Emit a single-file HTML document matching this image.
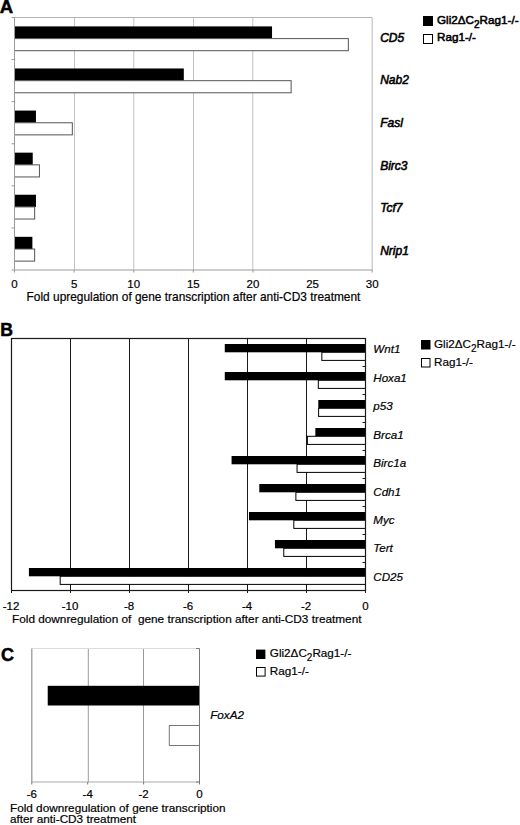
<!DOCTYPE html>
<html><head><meta charset="utf-8"><style>
html,body{margin:0;padding:0;background:#fff;width:520px;height:825px;overflow:hidden}
svg{display:block;font-family:"Liberation Sans", sans-serif}
text{fill:#000;stroke:#000;stroke-width:0.2px;paint-order:stroke}
text.ns{stroke:none}
text.hv{stroke-width:0.55px}
text.pl{stroke-width:0.5px}
</style></head><body>
<svg width="520" height="825" viewBox="0 0 520 825">
<line x1="74.50" y1="17.50" x2="74.50" y2="270.00" stroke="#c2c2c2" stroke-width="1"/>
<line x1="133.80" y1="17.50" x2="133.80" y2="270.00" stroke="#c2c2c2" stroke-width="1"/>
<line x1="193.50" y1="17.50" x2="193.50" y2="270.00" stroke="#c2c2c2" stroke-width="1"/>
<line x1="252.80" y1="17.50" x2="252.80" y2="270.00" stroke="#c2c2c2" stroke-width="1"/>
<line x1="14.50" y1="17.50" x2="372.20" y2="17.50" stroke="#b4b4b4" stroke-width="1"/>
<line x1="372.20" y1="17.50" x2="372.20" y2="270.00" stroke="#c4c4c4" stroke-width="1.2"/>
<rect x="14.50" y="26.40" width="257.54" height="12.20" fill="#000"/>
<rect x="14.50" y="38.60" width="333.85" height="12.10" fill="#fff" stroke="#555" stroke-width="1"/>
<text class="hv" x="380.2" y="41.8" font-size="12" font-style="italic">CD5</text>
<rect x="14.50" y="68.48" width="169.31" height="12.20" fill="#000"/>
<rect x="14.50" y="80.68" width="276.62" height="12.10" fill="#fff" stroke="#555" stroke-width="1"/>
<text class="hv" x="380.2" y="84.2" font-size="12" font-style="italic">Nab2</text>
<rect x="14.50" y="110.57" width="21.46" height="12.20" fill="#000"/>
<rect x="14.50" y="122.77" width="57.83" height="12.10" fill="#fff" stroke="#555" stroke-width="1"/>
<text class="hv" x="380.2" y="126.8" font-size="12" font-style="italic">Fasl</text>
<rect x="14.50" y="152.65" width="18.24" height="12.20" fill="#000"/>
<rect x="14.50" y="164.85" width="24.92" height="12.10" fill="#fff" stroke="#555" stroke-width="1"/>
<text class="hv" x="380.2" y="169.8" font-size="12" font-style="italic">Birc3</text>
<rect x="14.50" y="194.73" width="21.46" height="12.20" fill="#000"/>
<rect x="14.50" y="206.93" width="20.15" height="12.10" fill="#fff" stroke="#555" stroke-width="1"/>
<text class="hv" x="380.2" y="212" font-size="12" font-style="italic">Tcf7</text>
<rect x="14.50" y="236.82" width="17.88" height="12.20" fill="#000"/>
<rect x="14.50" y="249.02" width="20.15" height="12.10" fill="#fff" stroke="#555" stroke-width="1"/>
<text class="hv" x="380.2" y="254.8" font-size="12" font-style="italic">Nrip1</text>
<line x1="14.50" y1="17.50" x2="14.50" y2="270.00" stroke="#999" stroke-width="1"/>
<line x1="14.50" y1="270.00" x2="372.20" y2="270.00" stroke="#9a9a9a" stroke-width="1"/>
<line x1="11.50" y1="17.50" x2="14.50" y2="17.50" stroke="#999" stroke-width="1"/>
<line x1="11.50" y1="59.58" x2="14.50" y2="59.58" stroke="#999" stroke-width="1"/>
<line x1="11.50" y1="101.67" x2="14.50" y2="101.67" stroke="#999" stroke-width="1"/>
<line x1="11.50" y1="143.75" x2="14.50" y2="143.75" stroke="#999" stroke-width="1"/>
<line x1="11.50" y1="185.83" x2="14.50" y2="185.83" stroke="#999" stroke-width="1"/>
<line x1="11.50" y1="227.92" x2="14.50" y2="227.92" stroke="#999" stroke-width="1"/>
<line x1="11.50" y1="270.00" x2="14.50" y2="270.00" stroke="#999" stroke-width="1"/>
<line x1="14.50" y1="270.00" x2="14.50" y2="272.50" stroke="#999" stroke-width="1"/>
<text x="14.50" y="288.20" font-size="11.5" text-anchor="middle">0</text>
<line x1="74.12" y1="270.00" x2="74.12" y2="272.50" stroke="#999" stroke-width="1"/>
<text x="74.12" y="288.20" font-size="11.5" text-anchor="middle">5</text>
<line x1="133.73" y1="270.00" x2="133.73" y2="272.50" stroke="#999" stroke-width="1"/>
<text x="133.73" y="288.20" font-size="11.5" text-anchor="middle">10</text>
<line x1="193.35" y1="270.00" x2="193.35" y2="272.50" stroke="#999" stroke-width="1"/>
<text x="193.35" y="288.20" font-size="11.5" text-anchor="middle">15</text>
<line x1="252.97" y1="270.00" x2="252.97" y2="272.50" stroke="#999" stroke-width="1"/>
<text x="252.97" y="288.20" font-size="11.5" text-anchor="middle">20</text>
<text x="312.58" y="288.20" font-size="11.5" text-anchor="middle">25</text>
<line x1="372.20" y1="270.00" x2="372.20" y2="272.50" stroke="#999" stroke-width="1"/>
<text x="372.20" y="288.20" font-size="11.5" text-anchor="middle">30</text>
<text x="26.60" y="300.50" font-size="11.9">Fold upregulation of gene transcription after anti-CD3 treatment</text>
<rect x="423.00" y="16.00" width="10.00" height="10.00" fill="#000"/>
<rect x="423.50" y="34.50" width="9.00" height="9.00" fill="#fff" stroke="#000" stroke-width="1"/>
<text x="437.00" y="24.00" font-size="11.7" class="hv">Gli2&#916;C<tspan font-size="10" dy="4.2">2</tspan><tspan dy="-4.2">Rag1-/-</tspan></text>
<text class="hv" x="437" y="41.4" font-size="11.7">Rag1-/-</text>
<text class="pl" x="-0.2" y="12.7" font-size="18.5" font-weight="bold">A</text>
<line x1="306.50" y1="338.50" x2="306.50" y2="590.50" stroke="#1a1a1a" stroke-width="1"/>
<line x1="247.50" y1="338.50" x2="247.50" y2="590.50" stroke="#1a1a1a" stroke-width="1"/>
<line x1="188.50" y1="338.50" x2="188.50" y2="590.50" stroke="#1a1a1a" stroke-width="1"/>
<line x1="129.50" y1="338.50" x2="129.50" y2="590.50" stroke="#1a1a1a" stroke-width="1"/>
<line x1="70.50" y1="338.50" x2="70.50" y2="590.50" stroke="#1a1a1a" stroke-width="1"/>
<rect x="224.78" y="344.00" width="140.72" height="8.30" fill="#000"/>
<rect x="321.84" y="352.30" width="43.66" height="8.10" fill="#fff" stroke="#000" stroke-width="1"/>
<text x="373.30" y="353.40" font-size="11.6" font-style="italic">Wnt1</text>
<rect x="224.78" y="372.00" width="140.72" height="8.30" fill="#000"/>
<rect x="318.30" y="380.30" width="47.20" height="8.10" fill="#fff" stroke="#000" stroke-width="1"/>
<text x="373.30" y="381.82" font-size="11.6" font-style="italic">Hoxa1</text>
<rect x="318.30" y="400.00" width="47.20" height="8.30" fill="#000"/>
<rect x="318.60" y="408.30" width="46.90" height="8.10" fill="#fff" stroke="#000" stroke-width="1"/>
<text x="373.30" y="410.24" font-size="11.6" font-style="italic">p53</text>
<rect x="315.35" y="428.00" width="50.15" height="8.30" fill="#000"/>
<rect x="307.38" y="436.30" width="58.12" height="8.10" fill="#fff" stroke="#000" stroke-width="1"/>
<text x="373.30" y="438.66" font-size="11.6" font-style="italic">Brca1</text>
<rect x="231.57" y="456.00" width="133.93" height="8.30" fill="#000"/>
<rect x="297.06" y="464.30" width="68.44" height="8.10" fill="#fff" stroke="#000" stroke-width="1"/>
<text x="373.30" y="467.08" font-size="11.6" font-style="italic">Birc1a</text>
<rect x="259.30" y="484.00" width="106.20" height="8.30" fill="#000"/>
<rect x="295.88" y="492.30" width="69.62" height="8.10" fill="#fff" stroke="#000" stroke-width="1"/>
<text x="373.30" y="495.50" font-size="11.6" font-style="italic">Cdh1</text>
<rect x="248.98" y="512.00" width="116.52" height="8.30" fill="#000"/>
<rect x="293.81" y="520.30" width="71.69" height="8.10" fill="#fff" stroke="#000" stroke-width="1"/>
<text x="373.30" y="523.92" font-size="11.6" font-style="italic">Myc</text>
<rect x="274.94" y="540.00" width="90.56" height="8.30" fill="#000"/>
<rect x="283.78" y="548.30" width="81.72" height="8.10" fill="#fff" stroke="#000" stroke-width="1"/>
<text x="373.30" y="552.34" font-size="11.6" font-style="italic">Tert</text>
<rect x="28.91" y="568.00" width="336.59" height="8.30" fill="#000"/>
<rect x="60.18" y="576.30" width="305.32" height="8.10" fill="#fff" stroke="#000" stroke-width="1"/>
<text x="373.30" y="580.76" font-size="11.6" font-style="italic">CD25</text>
<rect x="11.50" y="338.50" width="354.00" height="252.00" fill="none" stroke="#1a1a1a" stroke-width="1.2"/>
<line x1="362.50" y1="366.50" x2="365.50" y2="366.50" stroke="#1a1a1a" stroke-width="1"/>
<line x1="362.50" y1="394.50" x2="365.50" y2="394.50" stroke="#1a1a1a" stroke-width="1"/>
<line x1="362.50" y1="422.50" x2="365.50" y2="422.50" stroke="#1a1a1a" stroke-width="1"/>
<line x1="362.50" y1="450.50" x2="365.50" y2="450.50" stroke="#1a1a1a" stroke-width="1"/>
<line x1="362.50" y1="478.50" x2="365.50" y2="478.50" stroke="#1a1a1a" stroke-width="1"/>
<line x1="362.50" y1="506.50" x2="365.50" y2="506.50" stroke="#1a1a1a" stroke-width="1"/>
<line x1="362.50" y1="534.50" x2="365.50" y2="534.50" stroke="#1a1a1a" stroke-width="1"/>
<line x1="362.50" y1="562.50" x2="365.50" y2="562.50" stroke="#1a1a1a" stroke-width="1"/>
<line x1="365.50" y1="590.50" x2="365.50" y2="593.00" stroke="#1a1a1a" stroke-width="1"/>
<text x="365.50" y="610.00" font-size="11.5" text-anchor="middle">0</text>
<line x1="306.50" y1="590.50" x2="306.50" y2="593.00" stroke="#1a1a1a" stroke-width="1"/>
<text x="306.00" y="610.00" font-size="11.5" text-anchor="middle">-2</text>
<line x1="247.50" y1="590.50" x2="247.50" y2="593.00" stroke="#1a1a1a" stroke-width="1"/>
<text x="247.00" y="610.00" font-size="11.5" text-anchor="middle">-4</text>
<line x1="188.50" y1="590.50" x2="188.50" y2="593.00" stroke="#1a1a1a" stroke-width="1"/>
<text x="188.00" y="610.00" font-size="11.5" text-anchor="middle">-6</text>
<line x1="129.50" y1="590.50" x2="129.50" y2="593.00" stroke="#1a1a1a" stroke-width="1"/>
<text x="129.00" y="610.00" font-size="11.5" text-anchor="middle">-8</text>
<line x1="70.50" y1="590.50" x2="70.50" y2="593.00" stroke="#1a1a1a" stroke-width="1"/>
<text x="70.00" y="610.00" font-size="11.5" text-anchor="middle">-10</text>
<line x1="11.50" y1="590.50" x2="11.50" y2="593.00" stroke="#1a1a1a" stroke-width="1"/>
<text x="11.00" y="610.00" font-size="11.5" text-anchor="middle">-12</text>
<text x="12.00" y="623.30" font-size="11.8">Fold downregulation of&#160; gene transcription after anti-CD3 treatment</text>
<rect x="421.00" y="340.00" width="9.50" height="9.50" fill="#000"/>
<rect x="421.50" y="358.50" width="8.50" height="8.50" fill="#fff" stroke="#000" stroke-width="1"/>
<text x="434.00" y="347.60" font-size="11.7">Gli2&#916;C<tspan font-size="10" dy="4.2">2</tspan><tspan dy="-4.2">Rag1-/-</tspan></text>
<text x="434.00" y="365.60" font-size="11.7">Rag1-/-</text>
<text class="pl" x="0.3" y="335.7" font-size="17.6" font-weight="bold">B</text>
<line x1="143.50" y1="648.50" x2="143.50" y2="782.00" stroke="#9a9a9a" stroke-width="1"/>
<line x1="88.30" y1="648.50" x2="88.30" y2="782.00" stroke="#9a9a9a" stroke-width="1"/>
<line x1="31.80" y1="648.50" x2="199.50" y2="648.50" stroke="#dcdcdc" stroke-width="1"/>
<line x1="31.80" y1="648.50" x2="31.80" y2="782.00" stroke="#999" stroke-width="1.3"/>
<rect x="47.73" y="685.80" width="151.77" height="19.70" fill="#000"/>
<rect x="169.31" y="725.50" width="30.19" height="20.00" fill="#fff" stroke="#777" stroke-width="1"/>
<line x1="31.80" y1="782.00" x2="199.50" y2="782.00" stroke="#a8a8a8" stroke-width="1"/>
<line x1="199.50" y1="648.50" x2="199.50" y2="782.00" stroke="#777" stroke-width="1"/>
<line x1="196.00" y1="648.50" x2="199.50" y2="648.50" stroke="#777" stroke-width="1"/>
<line x1="196.00" y1="782.00" x2="199.50" y2="782.00" stroke="#888" stroke-width="1"/>
<line x1="199.50" y1="782.00" x2="199.50" y2="784.50" stroke="#777" stroke-width="1"/>
<text x="199.50" y="797.80" font-size="11.5" text-anchor="middle">0</text>
<line x1="143.60" y1="782.00" x2="143.60" y2="784.50" stroke="#777" stroke-width="1"/>
<text x="143.60" y="797.80" font-size="11.5" text-anchor="middle">-2</text>
<line x1="87.70" y1="782.00" x2="87.70" y2="784.50" stroke="#777" stroke-width="1"/>
<text x="87.70" y="797.80" font-size="11.5" text-anchor="middle">-4</text>
<line x1="31.80" y1="782.00" x2="31.80" y2="784.50" stroke="#777" stroke-width="1"/>
<text x="31.80" y="797.80" font-size="11.5" text-anchor="middle">-6</text>
<text x="210.20" y="719.40" font-size="11.7" font-style="italic">FoxA2</text>
<text x="10.00" y="811.60" font-size="11.75">Fold downregulation of gene transcription</text>
<text x="10.00" y="823.30" font-size="11.75">after anti-CD3 treatment</text>
<rect x="256.00" y="649.60" width="9.40" height="9.40" fill="#000"/>
<rect x="256.50" y="667.50" width="8.60" height="8.60" fill="#fff" stroke="#000" stroke-width="1"/>
<text x="269.80" y="656.90" font-size="11.7">Gli2&#916;C<tspan font-size="10" dy="4.3">2</tspan><tspan dy="-4.3">Rag1-/-</tspan></text>
<text x="269.80" y="674.60" font-size="11.7">Rag1-/-</text>
<text class="pl" x="0.9" y="661.1" font-size="18" font-weight="bold">C</text>
</svg>
</body></html>
